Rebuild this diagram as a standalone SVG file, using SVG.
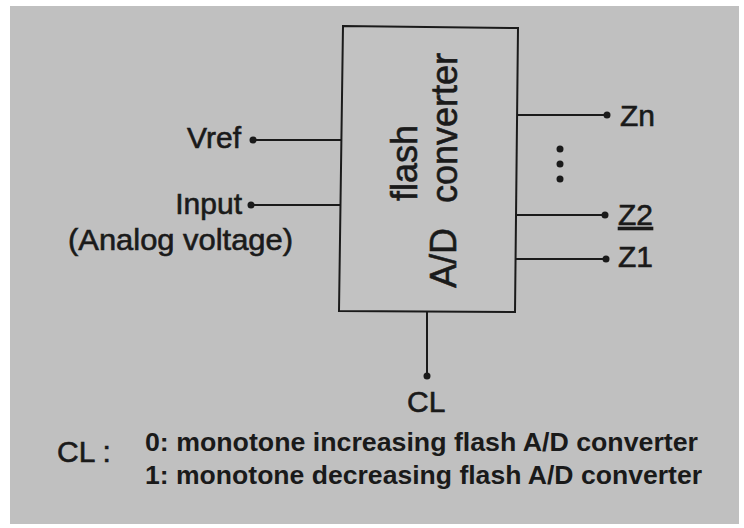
<svg xmlns="http://www.w3.org/2000/svg" width="744" height="528" viewBox="0 0 744 528">
<style>
.lbl{font-family:"Liberation Sans",Arial,sans-serif;font-size:30px;fill:#1a1a1a;stroke:#1a1a1a;stroke-width:0.6}
.rot{font-family:"Liberation Sans",Arial,sans-serif;font-size:36px;fill:#1a1a1a;stroke:#1a1a1a;stroke-width:0.6}
.leg{font-family:"Liberation Sans",Arial,sans-serif;font-size:26px;font-weight:bold;fill:#1a1a1a}
.wire{stroke:#1a1a1a;stroke-width:2;fill:none}
.dot{fill:#1a1a1a}
</style>
<rect x="0" y="0" width="744" height="528" fill="#ffffff"/>
<rect x="10" y="6" width="729" height="518" fill="#c0c0c0"/>
<g id="converter">
<polygon points="343,26 518,28 515,312 339,311" fill="#c2c2c2" stroke="#1a1a1a" stroke-width="2"/>
<text class="rot" transform="rotate(-90)"><tspan x="-201" y="417">flash</tspan></text>
<text class="rot" transform="rotate(-90)"><tspan x="-288" y="456">A/D</tspan><tspan x="-203" y="457">converter</tspan></text>
</g>
<g id="connectors">
<line class="wire" x1="253" y1="140" x2="342" y2="140"/>
<line class="wire" x1="251" y1="205" x2="341" y2="205"/>
<line class="wire" x1="517" y1="115" x2="607" y2="115"/>
<line class="wire" x1="516" y1="215" x2="605" y2="215"/>
<line class="wire" x1="516" y1="259" x2="606" y2="259"/>
<line class="wire" x1="427" y1="311" x2="427" y2="376"/>
</g>
<g id="vref">
<circle class="dot" cx="253" cy="140" r="3.5"/>
<text class="lbl" x="241" y="148" text-anchor="end">Vref</text>
</g>
<g id="input">
<circle class="dot" cx="251" cy="205" r="3.5"/>
<text class="lbl" x="242" y="214" text-anchor="end">Input</text>
<text class="lbl" x="68" y="250" textLength="225" lengthAdjust="spacingAndGlyphs">(Analog voltage)</text>
</g>
<g id="zn">
<circle class="dot" cx="607" cy="115" r="3.5"/>
<text class="lbl" x="620" y="126">Zn</text>
</g>
<g id="ellipsis">
<circle class="dot" cx="560" cy="149" r="3.5"/>
<circle class="dot" cx="560" cy="164" r="3.5"/>
<circle class="dot" cx="560" cy="179" r="3.5"/>
</g>
<g id="z2">
<circle class="dot" cx="605" cy="215" r="3.5"/>
<text class="lbl" x="618" y="225" text-decoration="underline">Z2</text>
</g>
<g id="z1">
<circle class="dot" cx="606" cy="259" r="3.5"/>
<text class="lbl" x="618" y="267">Z1</text>
</g>
<g id="cl">
<circle class="dot" cx="427" cy="376" r="3.5"/>
<text class="lbl" x="407" y="412">CL</text>
</g>
<g id="legend">
<text class="lbl" x="57" y="462">CL :</text>
<text class="leg" x="145" y="451" textLength="553" lengthAdjust="spacingAndGlyphs">0: monotone increasing flash A/D converter</text>
<text class="leg" x="145" y="484" textLength="557" lengthAdjust="spacingAndGlyphs">1: monotone decreasing flash A/D converter</text>
</g>
</svg>
